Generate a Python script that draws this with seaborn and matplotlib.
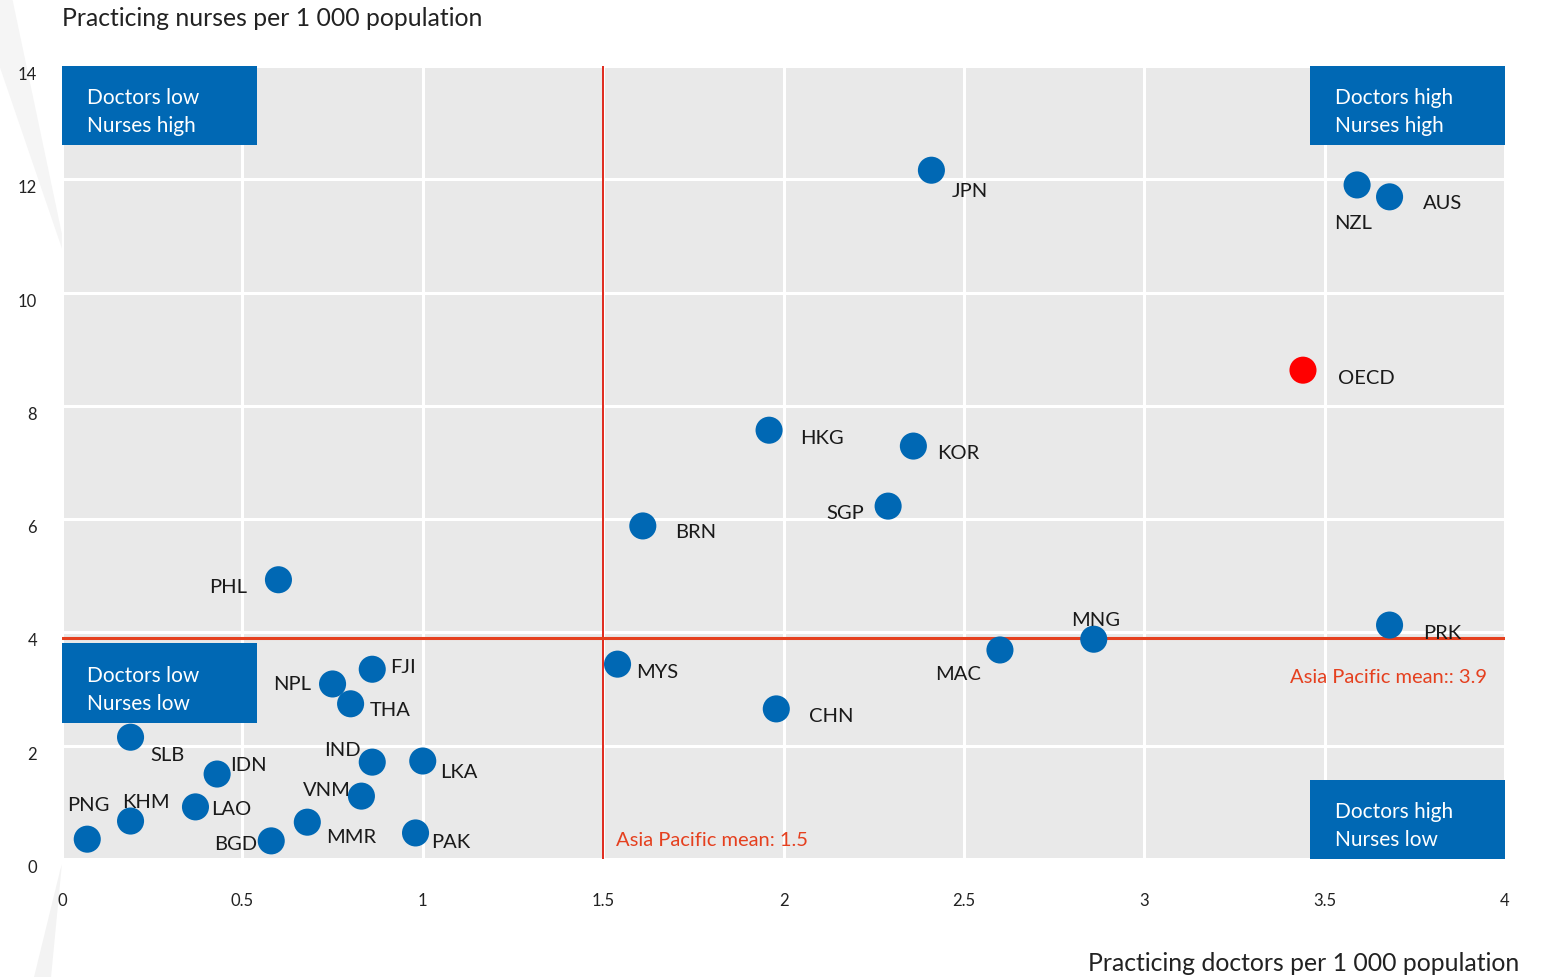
import numpy as np
import pandas as pd
import seaborn as sns
import matplotlib.pyplot as plt
from matplotlib.patches import Rectangle, Polygon

# data
countries = ["JPN", "NZL", "AUS", "OECD", "HKG", "KOR", "SGP", "BRN", "PHL", "MNG",
             "PRK", "MAC", "MYS", "CHN", "FJI", "NPL", "THA", "SLB", "IND", "LKA",
             "IDN", "VNM", "LAO", "KHM", "MMR", "PAK", "PNG", "BGD"]
doctors = [2.41, 3.59, 3.68, 3.44, 1.96, 2.36, 2.29, 1.61, 0.60, 2.86,
           3.68, 2.60, 1.54, 1.98, 0.86, 0.75, 0.80, 0.19, 0.86, 1.00,
           0.43, 0.83, 0.37, 0.19, 0.68, 0.98, 0.07, 0.58]
nurses = [12.16, 11.90, 11.69, 8.63, 7.57, 7.29, 6.23, 5.88, 4.93, 3.88,
          4.13, 3.69, 3.44, 2.65, 3.35, 3.09, 2.74, 2.15, 1.71, 1.73,
          1.50, 1.11, 0.92, 0.67, 0.65, 0.46, 0.35, 0.32]
mean_doctors = 1.5
mean_nurses = 3.9
x_ticks = [0, 0.5, 1, 1.5, 2, 2.5, 3, 3.5, 4]
x_tick_labels = ["0", "0.5", "1", "1.5", "2", "2.5", "3", "3.5", "4"]
y_ticks = [0, 2, 4, 6, 8, 10, 12, 14]

# label offsets in pixels (dx right, dy down)
label_off = {
    "JPN": (38, 20), "NZL": (-4, 38), "AUS": (53, 6), "OECD": (63, 7),
    "HKG": (53, 7), "KOR": (45, 6), "SGP": (-43, 6), "BRN": (53, 6),
    "PHL": (-50, 7), "MNG": (2, -20), "PRK": (53, 7), "MAC": (-42, 24),
    "MYS": (40, 7), "CHN": (55, 7), "FJI": (31, -3), "NPL": (-40, 0),
    "THA": (40, 6), "SLB": (37, 17), "IND": (-30, -13), "LKA": (36, 10),
    "IDN": (31, -10), "VNM": (-35, -7), "LAO": (36, 2), "KHM": (15, -20),
    "MMR": (44, 14), "PAK": (35, 9), "PNG": (1, -35), "BGD": (-36, 3),
}

df = pd.DataFrame({"country": countries, "doctors": doctors, "nurses": nurses})
df["group"] = np.where(df["country"] == "OECD", "OECD", "Asia Pacific")

sns.set_theme(style="white")
plt.rcParams["font.family"] = ["Lato", "DejaVu Sans"]

BLUE = "#0068b4"
RED = "#e5401f"

fig = plt.figure(figsize=(15.47, 9.78), dpi=100)
ax = fig.add_axes([62 / 1547, 118 / 978, 1443 / 1547, 793 / 978])
ax.set_facecolor("#e9e9e9")

# faint page-curl decoration on the left edge
fig.patches.append(Polygon([(0, 1), (0.008, 1), (0.04, 0.76), (0.04, 0.745), (0, 0.93)],
                           closed=True, transform=fig.transFigure,
                           facecolor="#f5f5f5", edgecolor="none", zorder=-1))
fig.patches.append(Polygon([(0.022, 0), (0.033, 0), (0.04, 0.115), (0.039, 0.11)],
                           closed=True, transform=fig.transFigure,
                           facecolor="#f3f3f3", edgecolor="none", zorder=-1))

sns.scatterplot(data=df, x="doctors", y="nurses", hue="group",
                palette={"Asia Pacific": BLUE, "OECD": "#ff0000"},
                s=380, edgecolor="none", legend=False, ax=ax, zorder=4)

for c, x, y in zip(countries, doctors, nurses):
    dx, dy = label_off[c]
    ax.annotate(c, (x, y), xytext=(dx, -dy), textcoords="offset pixels",
                ha="center", va="center", fontsize=14.5, color="#1a1a1a", zorder=5)

ax.set_xlim(0, 4)
ax.set_ylim(0, 14)
ax.set_xticks(x_ticks)
ax.set_xticklabels(x_tick_labels)
ax.set_yticks(y_ticks)
ax.grid(True, color="white", linewidth=2.2)
ax.set_axisbelow(True)
for s in ax.spines.values():
    s.set_visible(False)
ax.tick_params(axis="both", length=0, labelsize=12, colors="#222222")
ax.tick_params(axis="x", pad=24)
ax.tick_params(axis="y", pad=18)
for lbl in ax.get_yticklabels():
    lbl.set_va("top")
ax.set_xlabel("")
ax.set_ylabel("")

# mean lines
ax.axvline(mean_doctors, color="#e02a1c", linewidth=1.4, zorder=3)
ax.axhline(mean_nurses, color=RED, linewidth=2.2, zorder=3)
ax.text(1.536, 0.35, "Asia Pacific mean: 1.5", color=RED, fontsize=14.5,
        ha="left", va="center")
ax.text(3.95, 3.23, "Asia Pacific mean:: 3.9", color=RED, fontsize=14.5,
        ha="right", va="center")

# quadrant boxes
boxes = [
    (0.0, 0.9, "Doctors low\nNurses high"),
    (0.0, 0.172, "Doctors low\nNurses low"),
    (0.865, 0.9, "Doctors high\nNurses high"),
    (0.865, 0.0, "Doctors high\nNurses low"),
]
for bx, by, txt in boxes:
    ax.add_patch(Rectangle((bx, by), 0.135, 0.1, transform=ax.transAxes,
                           facecolor=BLUE, edgecolor="none", zorder=6))
    ax.text(bx + 0.017, by + 0.043, txt, transform=ax.transAxes, color="white",
            fontsize=15, ha="left", va="center", linespacing=1.5, zorder=7)

fig.text(62 / 1547, 1 - 18 / 978, "Practicing nurses per 1 000 population",
         fontsize=17.8, color="#222222", ha="left", va="center")
fig.text(1519 / 1547, 1 - 964 / 978, "Practicing doctors per 1 000 population",
         fontsize=17.8, color="#222222", ha="right", va="center")

fig.savefig("out.png", dpi=100)
